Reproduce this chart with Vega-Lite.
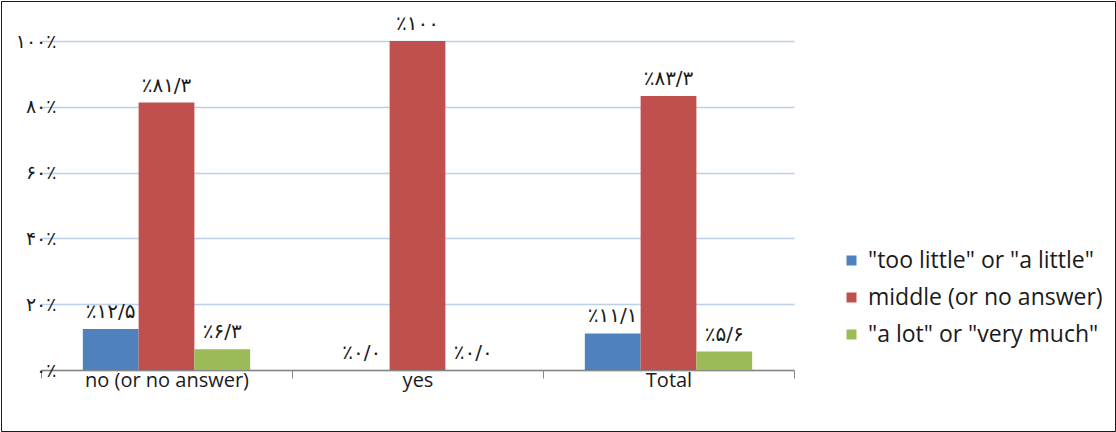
{
  "$schema": "https://vega.github.io/schema/vega-lite/v6.json",
  "autosize": "none",
  "padding": {"left": 1, "top": 1, "right": 1, "bottom": 1},
  "width": 1114,
  "height": 430,
  "background": "white",
  "config": {
    "view": {"stroke": "#1a1a1a", "strokeWidth": 1},
    "font": "Open Sans"
  },
  "data": {
    "values": [
      {"group": "no (or no answer)", "series": "\"too little\" or \"a little\"", "value": 12.5, "label": "٪۱۲/۵"},
      {"group": "no (or no answer)", "series": "middle (or no answer)", "value": 81.3, "label": "٪۸۱/۳"},
      {"group": "no (or no answer)", "series": "\"a lot\" or \"very much\"", "value": 6.3, "label": "٪۶/۳"},
      {"group": "yes", "series": "\"too little\" or \"a little\"", "value": 0, "label": "٪۰/۰"},
      {"group": "yes", "series": "middle (or no answer)", "value": 100, "label": "٪۱۰۰"},
      {"group": "yes", "series": "\"a lot\" or \"very much\"", "value": 0, "label": "٪۰/۰"},
      {"group": "Total", "series": "\"too little\" or \"a little\"", "value": 11.1, "label": "٪۱۱/۱"},
      {"group": "Total", "series": "middle (or no answer)", "value": 83.3, "label": "٪۸۳/۳"},
      {"group": "Total", "series": "\"a lot\" or \"very much\"", "value": 5.6, "label": "٪۵/۶"}
    ]
  },
  "encoding": {
    "x": {
      "field": "group",
      "type": "nominal",
      "sort": null,
      "scale": {"range": [40, 793], "paddingInner": 0, "paddingOuter": 0},
      "axis": {
        "title": null,
        "orient": "bottom",
        "offset": -61,
        "labelAngle": 0,
        "labelFont": "Open Sans",
        "labelFontSize": 20,
        "labelColor": "#1a1a1a",
        "labelPadding": -8,
        "tickBand": "extent",
        "tickSize": 8,
        "tickColor": "#868686",
        "domainColor": "#868686",
        "domainWidth": 1.5,
        "grid": false
      }
    },
    "xOffset": {
      "field": "series",
      "type": "nominal",
      "sort": null,
      "scale": {"paddingInner": 0, "paddingOuter": 0.75}
    },
    "y": {
      "field": "value",
      "type": "quantitative",
      "scale": {"domain": [0, 100], "range": [369, 40], "nice": false, "zero": true},
      "axis": {
        "title": null,
        "offset": -55,
        "domain": false,
        "ticks": false,
        "grid": true,
        "gridColor": "#BCD0EA",
        "gridWidth": 1.5,
        "values": [0, 20, 40, 60, 80, 100],
        "labelFont": "DejaVu Sans",
        "labelFontSize": 19,
        "labelColor": "#1a1a1a",
        "labelPadding": 0,
        "labelBaseline": "middle",
        "labelExpr": "datum.value == 0 ? '۰٪' : datum.value == 20 ? '۲۰٪' : datum.value == 40 ? '۴۰٪' : datum.value == 60 ? '۶۰٪' : datum.value == 80 ? '۸۰٪' : '۱۰۰٪'"
      }
    }
  },
  "layer": [
    {
      "mark": {"type": "bar"},
      "encoding": {
        "color": {
          "field": "series",
          "type": "nominal",
          "sort": null,
          "scale": {
            "domain": ["\"too little\" or \"a little\"", "middle (or no answer)", "\"a lot\" or \"very much\""],
            "range": ["#4F81BD", "#C0504D", "#9BBB59"]
          },
          "legend": {
            "title": null,
            "orient": "none",
            "legendX": 839,
            "legendY": 248,
            "padding": 0,
            "symbolType": "square",
            "symbolSize": 100,
            "symbolStrokeWidth": 0,
            "labelFont": "Open Sans",
            "labelFontSize": 23,
            "labelColor": "#1a1a1a",
            "labelOffset": 5,
            "rowPadding": 13,
            "labelLimit": 400
          }
        }
      }
    },
    {
      "mark": {"type": "text", "baseline": "bottom", "dy": -7, "font": "DejaVu Sans", "fontSize": 20, "color": "#1a1a1a"},
      "encoding": {
        "text": {"field": "label"}
      }
    }
  ]
}
